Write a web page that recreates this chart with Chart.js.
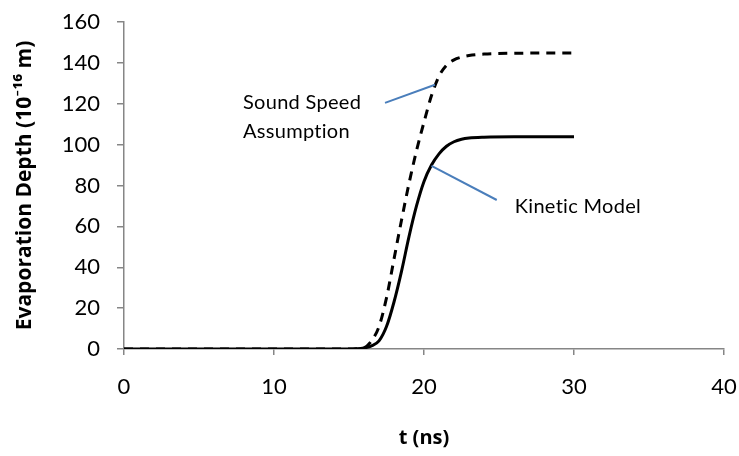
<!DOCTYPE html>
<html>
<head>
<meta charset="utf-8">
<script src="https://cdn.jsdelivr.net/npm/chart.js@4"></script>
<style>
  html, body { margin: 0; padding: 0; background: #fff; }
  #wrap { width: 739px; height: 456px; position: relative; }
</style>
</head>
<body>
<div id="wrap"><canvas id="depthChart"></canvas></div>
<script>
// Evaporation depth vs time: kinetic model against the sound speed assumption.
const FONT = "Lato, 'Open Sans', sans-serif";
const TITLE_FONT = "'Open Sans', Lato, sans-serif";
const AXIS_GREY = '#868686';
const NOTE_BLUE = '#4a7ebb';

const timeNs = [0, 5, 10, 15, 15.5, 16, 16.5, 17, 17.5, 18, 18.5, 19, 19.5, 20, 20.5, 21, 21.5, 22, 22.5, 23, 24, 26, 28, 30];
const kineticDepth = [0, 0, 0, 0, 0.1, 0.5, 1.5, 4, 11, 23, 38, 55, 70, 82, 90, 95.5, 99.2, 101.4, 102.6, 103.2, 103.6, 103.8, 103.8, 103.8];
const soundSpeedDepth = [0, 0, 0, 0, 0.1, 0.6, 4, 11, 25, 44, 63, 81, 97, 111, 124, 133.5, 138.8, 141.5, 142.8, 143.6, 144.3, 144.7, 144.8, 144.8];

const xTicks = [0, 10, 20, 30, 40];
const yTicks = [0, 20, 40, 60, 80, 100, 120, 140, 160];

// callouts, in data units (t, depth)
const callouts = [
  { from: [17.4, 120.4], to: [20.73, 129.3], lines: ['Sound Speed', 'Assumption'], at: [7.93, 120.6] },
  { from: [20.5, 89.6], to: [24.85, 72.9], lines: ['Kinetic Model'], at: [26.05, 69.6] },
];

const toXY = (xs, ys) => xs.map((x, i) => ({ x, y: ys[i] }));

const calloutPlugin = {
  id: 'callouts',
  afterDatasetsDraw(chart) {
    const { ctx, scales: { x, y } } = chart;
    ctx.save();
    ctx.strokeStyle = NOTE_BLUE;
    ctx.lineWidth = 2;
    ctx.fillStyle = '#000';
    ctx.font = '20px ' + FONT;
    ctx.letterSpacing = '0.3px'; // keeps "ti" from joining
    ctx.textAlign = 'left';
    ctx.textBaseline = 'middle';
    callouts.forEach(c => {
      ctx.beginPath();
      ctx.moveTo(x.getPixelForValue(c.from[0]), y.getPixelForValue(c.from[1]));
      ctx.lineTo(x.getPixelForValue(c.to[0]), y.getPixelForValue(c.to[1]));
      ctx.stroke();
      const tx = x.getPixelForValue(c.at[0]);
      const ty = y.getPixelForValue(c.at[1]);
      c.lines.forEach((s, i) => ctx.fillText(s, tx, ty + i * 29));
    });
    ctx.restore();
  },
};

new Chart(document.getElementById('depthChart'), {
  type: 'line',
  data: {
    datasets: [
      {
        label: 'Sound Speed Assumption',
        data: toXY(timeNs, soundSpeedDepth),
        borderColor: '#000', borderWidth: 3, borderDash: [9, 7],
        pointRadius: 0, fill: false, cubicInterpolationMode: 'monotone',
      },
      {
        label: 'Kinetic Model',
        data: toXY(timeNs, kineticDepth),
        borderColor: '#000', borderWidth: 3,
        pointRadius: 0, fill: false, cubicInterpolationMode: 'monotone',
      },
    ],
  },
  options: {
    responsive: true, maintainAspectRatio: false, animation: false,
    layout: { padding: { top: 22, right: 15, left: 0, bottom: 0 } },
    plugins: { legend: { display: false }, tooltip: { enabled: false } },
    scales: {
      x: {
        type: 'linear', min: 0, max: 40,
        afterBuildTicks: s => { s.ticks = xTicks.map(v => ({ value: v })); },
        afterFit: s => { s.height = 107; s.paddingLeft = 0; s.paddingRight = 0; },
        border: { color: AXIS_GREY, width: 1.5 },
        grid: { drawOnChartArea: false, color: AXIS_GREY, tickLength: 6, lineWidth: 1.5 },
        ticks: { color: '#000', font: { family: FONT, size: 22 }, padding: 19, maxRotation: 0 },
        title: {
          display: true, text: 't (ns)', color: '#000',
          font: { family: TITLE_FONT, size: 20, weight: 'bold' }, padding: { top: 0, bottom: 6 },
        },
      },
      y: {
        min: 0, max: 160,
        afterBuildTicks: s => { s.ticks = yTicks.map(v => ({ value: v })); },
        afterFit: s => { s.width = 124; s.paddingTop = 0; s.paddingBottom = 0; },
        border: { color: AXIS_GREY, width: 1.5 },
        grid: { drawOnChartArea: false, color: AXIS_GREY, tickLength: 7, lineWidth: 1.5 },
        ticks: { color: '#000', font: { family: FONT, size: 22 }, padding: 17 },
        title: {
          display: true, text: 'Evaporation Depth (10⁻¹⁶ m)', color: '#000',
          font: { family: TITLE_FONT, size: 21, weight: 'bold' }, padding: { top: 12, bottom: 0 },
        },
      },
    },
  },
  plugins: [calloutPlugin],
});
</script>
</body>
</html>
